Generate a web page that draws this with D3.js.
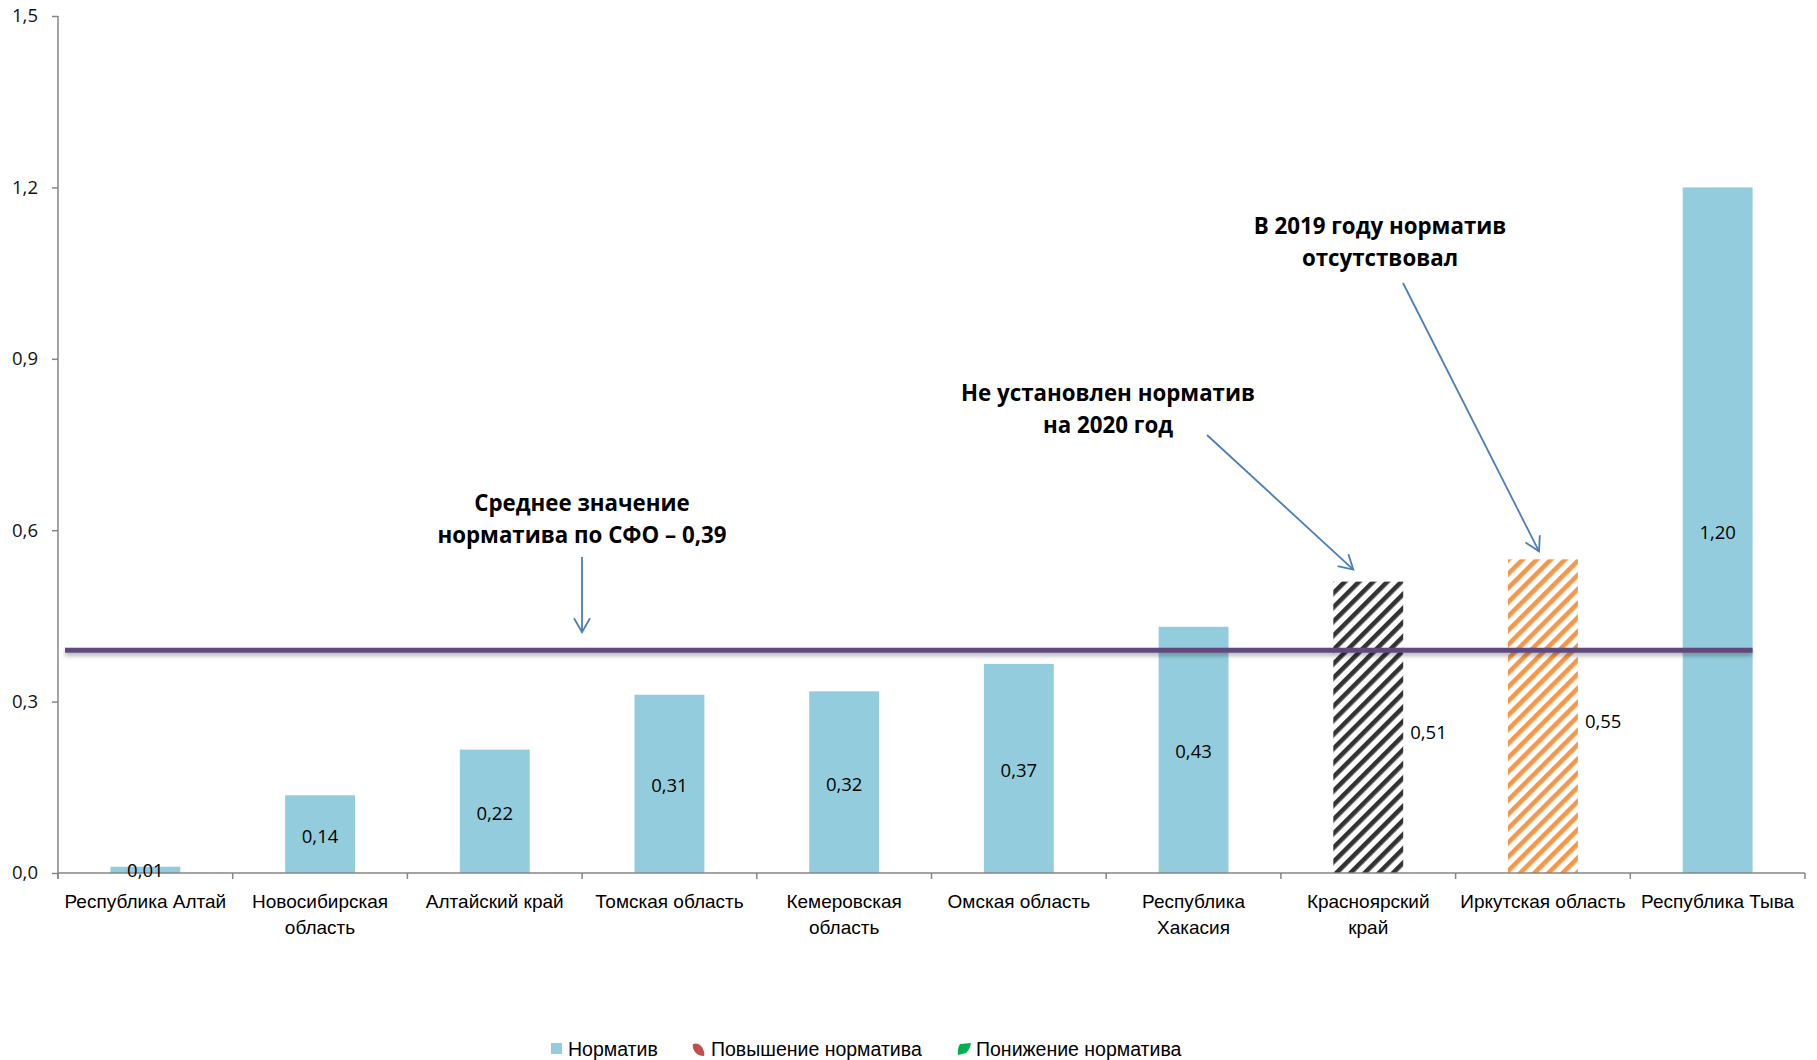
<!DOCTYPE html>
<html><head><meta charset="utf-8">
<script src="https://cdn.jsdelivr.net/npm/d3@7"></script>
<style>
html,body{margin:0;padding:0;background:#fff;}
svg{display:block;}
</style></head>
<body>
<svg id="chart" width="1817" height="1060"></svg>
<script>
const categories = ["Республика Алтай","Новосибирская область","Алтайский край","Томская область","Кемеровская область","Омская область","Республика Хакасия","Красноярский край","Иркутская область","Республика Тыва"];
const categoryLines = [["Республика Алтай"],["Новосибирская","область"],["Алтайский край"],["Томская область"],["Кемеровская","область"],["Омская область"],["Республика","Хакасия"],["Красноярский","край"],["Иркутская область"],["Республика Тыва"]];
const values = [0.011,0.136,0.216,0.312,0.318,0.366,0.431,0.51,0.549,1.20];
const barStyle = ["solid","solid","solid","solid","solid","solid","solid","hatchBlack","hatchOrange","solid"];
const meanValue = 0.39;
const yTicks = [0,0.3,0.6,0.9,1.2,1.5];
const legendItems = ["Норматив","Повышение норматива","Понижение норматива"];

const svg = d3.select("#chart");
const x = d3.scaleBand().domain(categories).range([58,1805]).paddingInner(0.6).paddingOuter(0.3);
const y = d3.scaleLinear().domain([0,1.5]).range([873,16]);
const fmt = v => d3.format(".1f")(v).replace(".",",");
const fmt2 = v => d3.format(".2f")(v).replace(".",",");
const step = x.step();

const defs = svg.append("defs");
function hatch(id,color){
  const p = defs.append("pattern").attr("id",id).attr("patternUnits","userSpaceOnUse")
    .attr("width",10).attr("height",10).attr("patternTransform","rotate(45)");
  p.append("rect").attr("x",0).attr("y",0).attr("width",4.6).attr("height",10).attr("fill",color);
}
hatch("hatchBlack","#333333");
hatch("hatchOrange","#f79646");
const f = defs.append("filter").attr("id","shadow").attr("filterUnits","userSpaceOnUse")
  .attr("x",0).attr("y",0).attr("width",1817).attr("height",1060);
f.append("feDropShadow").attr("dx",0).attr("dy",3).attr("stdDeviation",2).attr("flood-color","#000").attr("flood-opacity",0.3);
const mk = defs.append("marker").attr("id","arrow").attr("viewBox","0 0 20 20").attr("refX",18).attr("refY",10)
  .attr("markerWidth",20).attr("markerHeight",20).attr("markerUnits","userSpaceOnUse").attr("orient","auto");
mk.append("path").attr("d","M4,2 L18,10 L4,18").attr("fill","none").attr("stroke","#4a7ebb").attr("stroke-width",1.8);

// Bars
const fillFor = s => s==="solid" ? "#93cddd" : (s==="hatchBlack" ? "url(#hatchBlack)" : "url(#hatchOrange)");
svg.append("g").selectAll("rect").data(categories).join("rect")
  .attr("x",d=>x(d)).attr("width",x.bandwidth())
  .attr("y",(d,i)=>y(values[i])).attr("height",(d,i)=>y(0)-y(values[i]))
  .attr("fill",(d,i)=>fillFor(barStyle[i]));

// Axes
const yAxis = svg.append("g").attr("transform","translate(58,0)")
  .call(d3.axisLeft(y).tickValues(yTicks).tickFormat(fmt).tickSize(6).tickSizeOuter(0).tickPadding(14));
yAxis.select(".domain").attr("stroke","#868686").attr("stroke-width",1.5).attr("d","M0,"+y(1.5)+"V"+(y(0)+6));
yAxis.selectAll(".tick line").attr("stroke","#868686").attr("stroke-width",1.5);
yAxis.selectAll(".tick text").attr("font-family","Open Sans").attr("font-size",18.5).attr("fill","#111");

const xg = svg.append("g");
xg.append("line").attr("x1",58).attr("x2",1805).attr("y1",y(0)).attr("y2",y(0)).attr("stroke","#868686").attr("stroke-width",1.5);
const bounds = d3.range(categories.length+1).map(i=>x.range()[0]+i*step);
xg.selectAll("line.tk").data(bounds).join("line").attr("class","tk")
  .attr("x1",d=>d).attr("x2",d=>d).attr("y1",y(0)).attr("y2",y(0)+6).attr("stroke","#868686").attr("stroke-width",1.5);
const lab = xg.selectAll("text.cat").data(categories).join("text").attr("class","cat")
  .attr("x",d=>x(d)+x.bandwidth()/2).attr("y",y(0)+35)
  .attr("text-anchor","middle").attr("font-family","Liberation Sans Narrow, Arial Narrow, sans-serif").attr("font-size",19).attr("fill","#000");
lab.each(function(d,i){
  const t = d3.select(this);
  categoryLines[i].forEach((ln,j)=>t.append("tspan").attr("x",x(d)+x.bandwidth()/2).attr("dy",j?26:0).text(ln));
});

// Mean line
svg.append("line").attr("x1",x.range()[0]+7).attr("x2",x(categories[categories.length-1])+x.bandwidth())
  .attr("y1",y(meanValue)).attr("y2",y(meanValue)).attr("stroke","#604a7b").attr("stroke-width",5).attr("filter","url(#shadow)");

// Data labels
svg.append("g").selectAll("text").data(categories).join("text")
  .attr("x",(d,i)=> barStyle[i]==="solid" ? x(d)+x.bandwidth()/2 : x(d)+x.bandwidth()+7)
  .attr("y",(d,i)=> values[i] < 0.05 ? y(0)-2 : (y(values[i])+y(0))/2 + (barStyle[i]==="solid" ? 2 : 5))
  .attr("dy","0.35em")
  .attr("text-anchor",(d,i)=> barStyle[i]==="solid" ? "middle" : "start")
  .attr("font-family","Open Sans").attr("font-size",18.5).attr("fill","#000")
  .text((d,i)=>fmt2(values[i]));

// Annotations
const ann = svg.append("g").attr("font-family","Open Sans").attr("font-weight","bold").attr("font-size",22.3).attr("fill","#000").attr("text-anchor","middle");
function note(cx, cy, lines){
  lines.forEach((l,j)=>ann.append("text").attr("x",cx).attr("y",cy+j*32).attr("dy","0.35em").text(l));
}
note(582,503,["Среднее значение","норматива по СФО – 0,39"]);
note(1108,393,["Не установлен норматив","на 2020 год"]);
note(1380,226,["В 2019 году норматив","отсутствовал"]);
const arrows = [
  {x1:582, y1:557, x2:582, y2:y(meanValue)-18},
  {x1:1207, y1:435, x2:x(categories[7])+20, y2:y(values[7])-12},
  {x1:1403, y1:283, x2:x(categories[8])+31, y2:y(values[8])-8}
];
svg.append("g").selectAll("line").data(arrows).join("line")
  .attr("x1",d=>d.x1).attr("y1",d=>d.y1).attr("x2",d=>d.x2).attr("y2",d=>d.y2)
  .attr("stroke","#4a7ebb").attr("stroke-width",1.8).attr("marker-end","url(#arrow)");

// Legend
const lg = svg.append("g").attr("font-family","Liberation Sans Narrow, Arial Narrow, sans-serif").attr("font-size",19.5);
const lx = [551, 693, 957];
lg.append("rect").attr("x",lx[0]).attr("y",1043).attr("width",11).attr("height",11).attr("fill","#93cddd");
lg.append("path").attr("d",`M${lx[1]},1044 q5,-2 9,3 q3,5 2,9 q-6,0 -9,-4 q-3,-4 -2,-8z`).attr("fill","#c0504d");
lg.append("path").attr("d",`M${lx[2]+3},1044 l11,-1 q-1,6 -5,10 l-8,2 q-1,-6 2,-11z`).attr("fill","#00b050");
[568,711,976].forEach((tx,i)=>lg.append("text").attr("x",tx).attr("y",1049).attr("dy","0.35em").text(legendItems[i]));
</script>
</body></html>
